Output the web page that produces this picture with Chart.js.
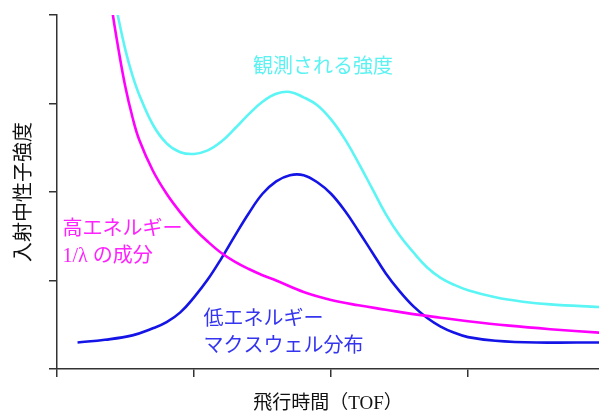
<!DOCTYPE html>
<html>
<head>
<meta charset="utf-8">
<script src="https://cdn.jsdelivr.net/npm/chart.js@4/dist/chart.umd.min.js"></script>
<style>
  html, body { margin: 0; padding: 0; background: #fff; }
  #chart { display: block; }
</style>
</head>
<body>
<canvas id="chart" width="599" height="415"></canvas>
<script>
// values (x in tick units, y in tick units)
const xTicks = [0, 1, 2, 3];
const yTicks = [0, 1, 2, 3, 4];

const highX = [0.36, 0.40, 0.45, 0.50, 0.55, 0.60, 0.70, 0.80, 0.90, 1.00, 1.10, 1.20, 1.30, 1.40, 1.50, 1.60, 1.80, 2.00, 2.20, 2.40, 2.60, 2.80, 3.00, 3.30, 3.60, 3.96];
const highY = [4.55, 4.08, 3.60, 3.18, 2.85, 2.59, 2.24, 1.98, 1.77, 1.59, 1.44, 1.31, 1.21, 1.13, 1.06, 1.00, 0.87, 0.78, 0.72, 0.67, 0.62, 0.58, 0.54, 0.49, 0.45, 0.41];

const maxwellX = [0.15, 0.35, 0.55, 0.70, 0.80, 0.90, 1.00, 1.10, 1.20, 1.30, 1.40, 1.50, 1.60, 1.70, 1.80, 1.90, 2.00, 2.10, 2.20, 2.30, 2.40, 2.50, 2.60, 2.70, 2.80, 2.90, 3.00, 3.20, 3.50, 3.96];
const maxwellY = [0.30, 0.33, 0.38, 0.46, 0.53, 0.64, 0.81, 1.01, 1.25, 1.51, 1.76, 1.98, 2.12, 2.19, 2.19, 2.11, 1.98, 1.79, 1.56, 1.32, 1.08, 0.88, 0.71, 0.58, 0.48, 0.41, 0.36, 0.32, 0.30, 0.30];

const observedX = [0.40, 0.45, 0.50, 0.55, 0.60, 0.70, 0.80, 0.90, 1.00, 1.10, 1.20, 1.30, 1.40, 1.50, 1.60, 1.70, 1.80, 1.90, 2.00, 2.10, 2.20, 2.30, 2.40, 2.50, 2.60, 2.70, 2.80, 2.90, 3.00, 3.20, 3.40, 3.60, 3.96];
const observedY = [4.35, 3.95, 3.60, 3.32, 3.10, 2.76, 2.55, 2.45, 2.43, 2.47, 2.57, 2.72, 2.88, 3.02, 3.11, 3.13, 3.07, 2.98, 2.82, 2.60, 2.33, 2.04, 1.75, 1.51, 1.32, 1.15, 1.03, 0.95, 0.89, 0.81, 0.76, 0.73, 0.70];

const toPoints = (xs, ys) => xs.map((x, i) => ({ x: x, y: ys[i] }));

const jpFont = '"Liberation Serif", "Noto Sans CJK JP", sans-serif';

// text labels on the plot, placed in data coordinates
const notes = [
    { lines: ['観測される強度'], x: 1.43, y: 3.4, color: '#5cf2f2' },
    { lines: ['高エネルギー', '1/λ の成分'], x: 0.04, y: 1.57, color: '#ff22ff' },
    { lines: ['低エネルギー', 'マクスウェル分布'], x: 1.07, y: 0.56, color: '#3535f0' }
];

const notePlugin = {
    id: 'notes',
    afterDraw(chart) {
        const ctx = chart.ctx;
        const xs = chart.scales.x, ys = chart.scales.y;
        ctx.save();
        ctx.font = '20px ' + jpFont;
        ctx.textBaseline = 'middle';
        ctx.textAlign = 'left';
        notes.forEach(n => {
            const px = xs.getPixelForValue(n.x);
            const py = ys.getPixelForValue(n.y);
            ctx.fillStyle = n.color;
            n.lines.forEach((t, i) => ctx.fillText(t, px, py + i * 27));
        });
        ctx.restore();
    }
};

const axisColor = '#333';

new Chart(document.getElementById('chart').getContext('2d'), {
    type: 'line',
    data: {
        datasets: [{
            label: '観測される強度',
            data: toPoints(observedX, observedY),
            borderColor: '#5cf5f5'
        }, {
            label: '高エネルギー 1/λ の成分',
            data: toPoints(highX, highY),
            borderColor: '#ff00ff'
        }, {
            label: '低エネルギー マクスウェル分布',
            data: toPoints(maxwellX, maxwellY),
            borderColor: '#1414e6'
        }]
    },
    options: {
        responsive: false,
        animation: false,
        layout: { padding: { top: 15, right: 0, left: 0, bottom: 0 } },
        elements: {
            point: { radius: 0 },
            line: { borderWidth: 2.6, tension: 0.4, fill: false }
        },
        plugins: {
            legend: { display: false },
            tooltip: { enabled: false }
        },
        scales: {
            x: {
                type: 'linear',
                min: 0,
                max: 3.956,
                afterFit: s => { s.height = 46; },
                afterBuildTicks: s => { s.ticks = xTicks.map(v => ({ value: v })); },
                ticks: { display: false, includeBounds: false },
                grid: { drawOnChartArea: false, drawTicks: true, tickLength: 8, color: axisColor, lineWidth: 1.5 },
                border: { color: axisColor, width: 1.5 },
                title: {
                    display: true,
                    text: '飛行時間（TOF）',
                    color: '#111',
                    font: { family: jpFont, size: 19 },
                    padding: { top: 0, bottom: 0 }
                }
            },
            y: {
                min: 0,
                max: 4,
                afterFit: s => { s.width = 57; },
                afterBuildTicks: s => { s.ticks = yTicks.map(v => ({ value: v })); },
                ticks: { display: false },
                grid: { drawOnChartArea: false, drawTicks: true, tickLength: 8, color: axisColor, lineWidth: 1.5 },
                border: { color: axisColor, width: 1.5 },
                title: {
                    display: true,
                    text: '入射中性子強度',
                    color: '#111',
                    font: { family: '"Noto Sans CJK JP", sans-serif', size: 20 },
                    padding: { top: 10, bottom: 0 }
                }
            }
        }
    },
    plugins: [notePlugin]
});
</script>
</body>
</html>
